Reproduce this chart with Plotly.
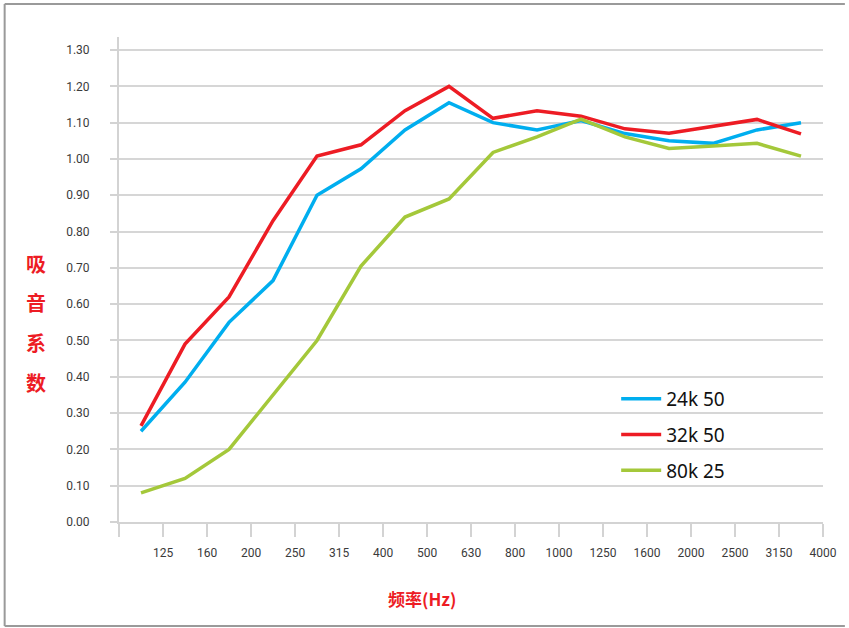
import plotly.graph_objects as go

freq_labels = ["125", "160", "200", "250", "315", "400", "500", "630", "800",
               "1000", "1250", "1600", "2000", "2500", "3150", "4000"]

s24k50 = [0.25, 0.385, 0.55, 0.665, 0.90, 0.973, 1.08, 1.155, 1.10, 1.08,
          1.106, 1.07, 1.05, 1.043, 1.08, 1.10]
s32k50 = [0.265, 0.49, 0.62, 0.83, 1.008, 1.039, 1.133, 1.20, 1.112, 1.133,
          1.118, 1.083, 1.071, 1.09, 1.109, 1.069]
s80k25 = [0.08, 0.12, 0.20, 0.35, 0.50, 0.705, 0.84, 0.89, 1.018, 1.061,
          1.11, 1.061, 1.029, 1.036, 1.043, 1.008]

series = [("24k 50", s24k50, "#00AEEF"),
          ("32k 50", s32k50, "#ED1C24"),
          ("80k 25", s80k25, "#A4C83A")]

y_ticks = [round(i * 0.1, 2) for i in range(14)]

W, H = 849, 628
L, R, T, B = 119, 22, 37, 106
pw, ph = W - L - R, H - T - B

# category centres sit between the tick marks
xpos = [i + 0.5 for i in range(len(freq_labels))]

fig = go.Figure()
for name, vals, col in series:
    fig.add_trace(go.Scatter(x=xpos, y=vals, mode="lines", name=name,
                             legendgroup=name,
                             line=dict(color=col, width=3.5)))

def px_x(p):
    return (p - L) / pw

def px_y(p):
    return (H - B - p) / ph

tick_font = dict(family="Liberation Sans Narrow, Arial Narrow, Roboto, sans-serif",
                 size=12, color="#3a3a3a")

fig.update_layout(
    width=W, height=H,
    margin=dict(l=L, r=R, t=T, b=B),
    paper_bgcolor="white", plot_bgcolor="white",
    showlegend=True,
    legend=dict(x=px_x(619), y=px_y(380), xanchor="left", yanchor="top",
                font=dict(family="Noto Sans, Open Sans, sans-serif", size=19, color="#111111"),
                bgcolor="rgba(255,255,255,0)", tracegroupgap=8,
                traceorder="grouped", itemwidth=40),
    xaxis=dict(range=[0, len(freq_labels)],
               tickvals=list(range(len(freq_labels) + 1)),
               ticktext=[""] + freq_labels,
               showgrid=False, zeroline=False,
               showline=True, linecolor="#d3d3d3", linewidth=2,
               ticks="outside", ticklen=13, tickwidth=2, tickcolor="#d3d3d3",
               ticklabelstandoff=6,
               tickfont=tick_font),
    yaxis=dict(range=[0, 1.336], tickvals=y_ticks,
               ticktext=[f"{v:.2f}" for v in y_ticks],
               showgrid=True, gridcolor="#d6d6d6", gridwidth=2,
               zeroline=False,
               showline=True, linecolor="#d3d3d3", linewidth=2,
               ticks="outside", ticklen=7, tickwidth=2, tickcolor="#d3d3d3",
               ticklabelstandoff=18,
               tickfont=tick_font),
)

# y-axis title, one character per line
ytitle_chars = ["吸", "音", "系", "数"]
for i, ch in enumerate(ytitle_chars):
    fig.add_annotation(text=f"<b>{ch}</b>", xref="paper", yref="paper",
                       x=px_x(36), y=px_y(263 + i * 39.7), showarrow=False,
                       xanchor="center", yanchor="middle",
                       font=dict(family="Noto Sans CJK SC", size=20, color="#ED1C24"))

fig.add_annotation(text="<b>频率(Hz)</b>", xref="paper", yref="paper",
                   x=px_x(424), y=px_y(598), showarrow=False,
                   xanchor="center", yanchor="middle",
                   font=dict(family="Noto Sans CJK SC", size=17, color="#ED1C24"))

# outer frame: left, top and bottom edges only (right edge is cut off)
frame = dict(color="#9a9a9a", width=2)
fig.add_shape(type="line", xref="paper", yref="paper",
              x0=px_x(4), x1=px_x(4), y0=px_y(626), y1=px_y(4), line=frame, layer="below")
fig.add_shape(type="line", xref="paper", yref="paper",
              x0=px_x(4), x1=px_x(849), y0=px_y(4), y1=px_y(4), line=frame, layer="below")
fig.add_shape(type="line", xref="paper", yref="paper",
              x0=px_x(4), x1=px_x(849), y0=px_y(626), y1=px_y(626), line=frame, layer="below")

fig.write_html("out.html",
               config={"displayModeBar": False},
               post_script="document.body.style.margin='0';document.body.style.overflow='hidden';")
